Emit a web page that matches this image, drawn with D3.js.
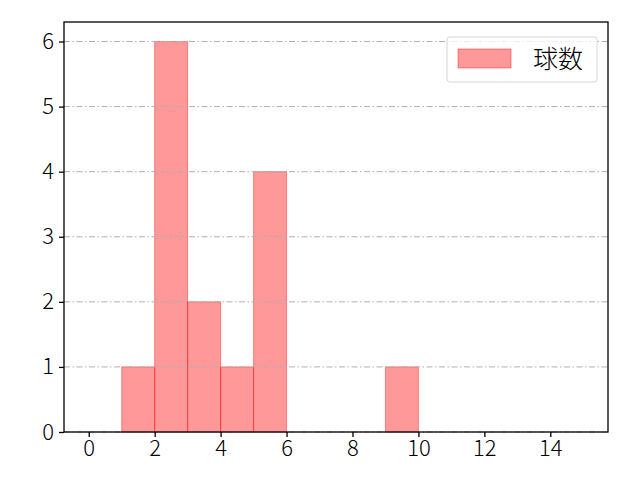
<!DOCTYPE html>
<html>
<head>
<meta charset="utf-8">
<script src="https://cdn.jsdelivr.net/npm/d3@7"></script>
<style>
  body { margin: 0; background: #fff; }
  svg text { font-family: "Noto Sans CJK JP", "DejaVu Sans", sans-serif; }
</style>
</head>
<body>
<svg id="chart" width="640" height="480"></svg>
<script>
// histogram bins (left edge) and counts
const binStarts = [0, 1, 2, 3, 4, 5, 6, 7, 8, 9, 10, 11, 12, 13, 14];
const counts = [0, 1, 6, 2, 1, 4, 0, 0, 0, 1, 0, 0, 0, 0, 0];
const xTicks = [0, 2, 4, 6, 8, 10, 12, 14];
const yTicks = [0, 1, 2, 3, 4, 5, 6];
const seriesName = "球数";

const plotLeft = 64, plotRight = 608, plotTop = 22, plotBottom = 432;
const svg = d3.select("#chart");

const x = d3.scaleLinear().domain([-0.75, 15.75]).range([plotLeft, plotRight]);
const y = d3.scaleLinear().domain([0, 6.3]).range([plotBottom, plotTop]);

// bars
svg.append("g")
    .selectAll("rect")
    .data(binStarts.map((b, i) => ({start: b, count: counts[i]})).filter(d => d.count > 0))
    .enter()
    .append("rect")
    .attr("x", d => x(d.start))
    .attr("width", d => x(d.start + 1) - x(d.start))
    .attr("y", d => y(d.count))
    .attr("height", d => y(0) - y(d.count))
    .attr("fill", "rgba(255,0,0,0.4)")
    .attr("stroke", "rgba(255,0,0,0.4)")
    .attr("stroke-width", 1);

// grid on top of bars
svg.append("g")
    .selectAll("line")
    .data(yTicks)
    .enter()
    .append("line")
    .attr("x1", plotLeft)
    .attr("x2", plotRight)
    .attr("y1", d => y(d))
    .attr("y2", d => y(d))
    .attr("stroke", "#b0b0b0")
    .attr("stroke-width", 1)
    .attr("stroke-dasharray", "6,2.5,1.5,2.5");

// axes
const xAxis = svg.append("g")
    .attr("transform", "translate(0," + plotBottom + ")")
    .call(d3.axisBottom(x).tickValues(xTicks).tickFormat(d3.format("d")).tickSize(5).tickPadding(3));
const yAxis = svg.append("g")
    .attr("transform", "translate(" + plotLeft + ",0)")
    .call(d3.axisLeft(y).tickValues(yTicks).tickFormat(d3.format("d")).tickSize(5).tickPadding(5));

[xAxis, yAxis].forEach(a => {
    a.attr("font-size", null).attr("font-family", null);
    a.select(".domain").remove();
    a.selectAll("line").attr("stroke", "#000").attr("stroke-width", 1.3);
    a.selectAll("text")
        .style("font-size", "22px")
        .style("font-weight", "300")
        .attr("fill", "#000");
});

// frame
svg.append("rect")
    .attr("x", plotLeft)
    .attr("y", plotTop)
    .attr("width", plotRight - plotLeft)
    .attr("height", plotBottom - plotTop)
    .attr("fill", "none")
    .attr("stroke", "#000")
    .attr("stroke-width", 1.3);

// legend
const legend = svg.append("g").attr("transform", "translate(447,37)");
legend.append("rect")
    .attr("width", 150)
    .attr("height", 45)
    .attr("rx", 3)
    .attr("fill", "rgba(255,255,255,0.8)")
    .attr("stroke", "#d6d6d6")
    .attr("stroke-width", 1);
legend.append("rect")
    .attr("x", 11)
    .attr("y", 12)
    .attr("width", 53)
    .attr("height", 19)
    .attr("fill", "rgba(255,0,0,0.4)")
    .attr("stroke", "rgba(255,0,0,0.4)");
legend.append("text")
    .attr("x", 86)
    .attr("y", 31)
    .style("font-size", "25px")
    .style("font-weight", "300")
    .attr("fill", "#000")
    .text(seriesName);
</script>
</body>
</html>
